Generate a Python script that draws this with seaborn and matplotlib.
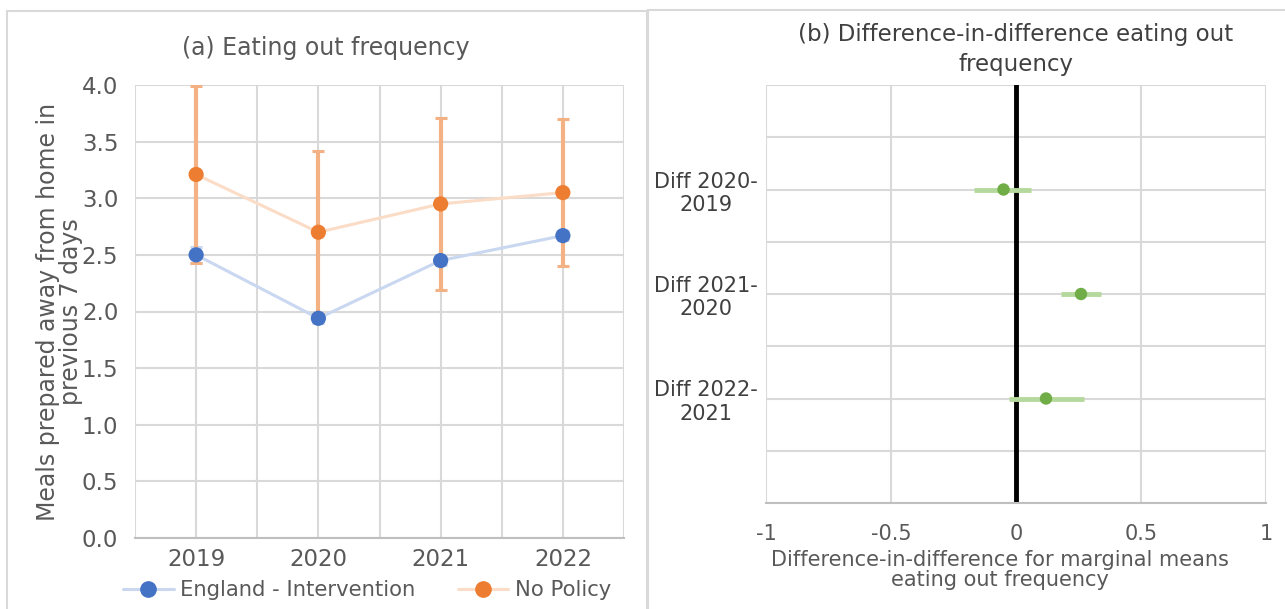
import numpy as np
import pandas as pd
import matplotlib.pyplot as plt
import seaborn as sns
from matplotlib.lines import Line2D
from matplotlib.patches import Rectangle

# -- Data --
years = ["2019", "2020", "2021", "2022"]
england_mean = [2.50, 1.94, 2.45, 2.67]
england_err = [0.07, 0.04, 0.04, 0.04]
nopolicy_mean = [3.21, 2.70, 2.95, 3.05]
nopolicy_err = [0.78, 0.72, 0.76, 0.65]

diff_labels = ["Diff 2020-\n2019", "Diff 2021-\n2020", "Diff 2022-\n2021"]
diff_est = [-0.05, 0.26, 0.12]
diff_low = [-0.17, 0.18, -0.03]
diff_high = [0.06, 0.34, 0.27]

GREY = "#595959"
GRID = "#d9d9d9"
BLUE = "#4472c4"
BLUE_LIGHT = "#c9d7f0"
ORANGE = "#ed7d31"
ORANGE_BAR = "#f4b183"
ORANGE_LIGHT = "#fbdcc6"
GREEN = "#70ad47"
GREEN_LIGHT = "#b5d99c"

sns.set_theme(style="white")
plt.rcParams["font.family"] = ["DejaVu Sans"]
plt.rcParams["text.color"] = GREY
plt.rcParams["axes.labelcolor"] = GREY
plt.rcParams["xtick.color"] = GREY
plt.rcParams["ytick.color"] = GREY

fig = plt.figure(figsize=(12.85, 6.09), dpi=100)

# panel frames
fig.patches.append(Rectangle((7 / 1285, -0.01), (647 - 7) / 1285, 1 - 11 / 609 + 0.01,
                             transform=fig.transFigure, fill=False, ec=GRID, lw=1.5))
fig.patches.append(Rectangle((648 / 1285, -0.01), 1, 1 - 10 / 609 + 0.01,
                             transform=fig.transFigure, fill=False, ec=GRID, lw=1.5))

# -- (a) Eating out frequency --
ax1 = fig.add_axes([135 / 1285, 1 - 538 / 609, 489 / 1285, 453 / 609])
df_a = pd.DataFrame({
    "year": years * 2,
    "mean": england_mean + nopolicy_mean,
    "err": england_err + nopolicy_err,
    "group": ["England - Intervention"] * 4 + ["No Policy"] * 4,
})
x_pos = np.arange(len(years))
eng = df_a[df_a["group"] == "England - Intervention"]
nop = df_a[df_a["group"] == "No Policy"]

ax1.plot(x_pos, eng["mean"], color=BLUE_LIGHT, lw=2.2, zorder=2)
ax1.plot(x_pos, nop["mean"], color=ORANGE_LIGHT, lw=2.2, zorder=2)
ax1.errorbar(x_pos, eng["mean"], yerr=eng["err"], fmt="none", ecolor=BLUE_LIGHT,
             elinewidth=3, capsize=4, capthick=2.2, zorder=3)
ax1.errorbar(x_pos, nop["mean"], yerr=nop["err"], fmt="none", ecolor=ORANGE_BAR,
             elinewidth=3, capsize=4.3, capthick=2.2, zorder=3)
sns.scatterplot(x=x_pos, y=eng["mean"].values, color=BLUE, s=120, edgecolor="none",
                ax=ax1, zorder=4, legend=False)
sns.scatterplot(x=x_pos, y=nop["mean"].values, color=ORANGE, s=120, edgecolor="none",
                ax=ax1, zorder=4, legend=False)

ax1.set_xlim(-0.5, len(years) - 0.5)
ax1.set_ylim(0, 4.0)
ax1.set_xticks(np.arange(-0.5, len(years), 0.5), minor=False)
ax1.set_xticklabels(["" if i % 2 == 0 else years[i // 2] for i in range(2 * len(years) + 1)])
ax1.set_yticks(np.arange(0, 4.01, 0.5))
ax1.set_yticklabels([f"{v:.1f}" for v in np.arange(0, 4.01, 0.5)])
ax1.tick_params(axis="both", length=0, labelsize=16.5)
ax1.tick_params(axis="x", pad=7)
ax1.tick_params(axis="y", pad=12)
ax1.grid(True, color=GRID, lw=1.5)
ax1.set_axisbelow(True)
for side in ["top", "right", "left"]:
    ax1.spines[side].set_visible(False)
ax1.spines["bottom"].set_color("#bfbfbf")
ax1.spines["bottom"].set_linewidth(1.5)
ax1.set_ylabel("Meals prepared away from home in\nprevious 7 days", fontsize=17,
               labelpad=-1, linespacing=0.95)
fig.text(326 / 1285, 1 - 48 / 609, "(a) Eating out frequency", ha="center", va="center",
         fontsize=17, color=GREY)

handles = [
    Line2D([], [], color=BLUE_LIGHT, lw=2.2, marker="o", markersize=11,
           markerfacecolor=BLUE, markeredgecolor=BLUE),
    Line2D([], [], color=ORANGE_LIGHT, lw=2.2, marker="o", markersize=11,
           markerfacecolor=ORANGE, markeredgecolor=ORANGE),
]
fig.legend(handles, ["England - Intervention", "No Policy"], loc="center",
           bbox_to_anchor=(367 / 1285, 1 - 590 / 609), ncol=2, frameon=False,
           fontsize=15.2, handlelength=2.4, handletextpad=0.3, columnspacing=2.0,
           labelcolor=GREY)

# -- (b) Difference-in-difference --
ax2 = fig.add_axes([766 / 1285, 1 - 503 / 609, 500 / 1285, 418 / 609])
y_pos = np.arange(len(diff_labels), 0, -1).astype(float)
est = np.array(diff_est)
xerr = np.vstack([est - np.array(diff_low), np.array(diff_high) - est])

ax2.axvline(0, color="black", lw=3.5, zorder=2)
ax2.errorbar(est, y_pos, xerr=xerr, fmt="none", ecolor=GREEN_LIGHT, elinewidth=3.5,
             capsize=0, zorder=3)
sns.scatterplot(x=est, y=y_pos, color=GREEN, s=80, edgecolor="none", ax=ax2,
                zorder=4, legend=False)

ax2.set_xlim(-1, 1)
ax2.set_ylim(0, len(diff_labels) + 1)
ax2.set_xticks([-1, -0.5, 0, 0.5, 1])
ax2.set_xticklabels(["-1", "-0.5", "0", "0.5", "1"])
y_ticks = np.arange(0, len(diff_labels) + 1.01, 0.5)
ax2.set_yticks(y_ticks)
lab_map = {float(p): l for p, l in zip(y_pos, diff_labels)}
ax2.set_yticklabels([lab_map.get(float(t), "") for t in y_ticks], multialignment="center",
                    color="#404040")
ax2.tick_params(axis="both", length=0, labelsize=15)
ax2.tick_params(axis="x", pad=15)
ax2.tick_params(axis="y", pad=6)
ax2.grid(True, color=GRID, lw=1.5)
ax2.set_axisbelow(True)
for side in ["top", "right", "left"]:
    ax2.spines[side].set_visible(False)
ax2.spines["bottom"].set_color("#bfbfbf")
ax2.spines["bottom"].set_linewidth(1.5)
ax2.set_xlabel("Difference-in-difference for marginal means\neating out frequency",
               fontsize=15, linespacing=1.0)
ax2.xaxis.set_label_coords(0.468, -0.112)
ax2.set_title("(b) Difference-in-difference eating out\nfrequency", fontsize=16.5,
              color="#404040", pad=10, linespacing=1.4)

fig.savefig("out.png", dpi=100)
